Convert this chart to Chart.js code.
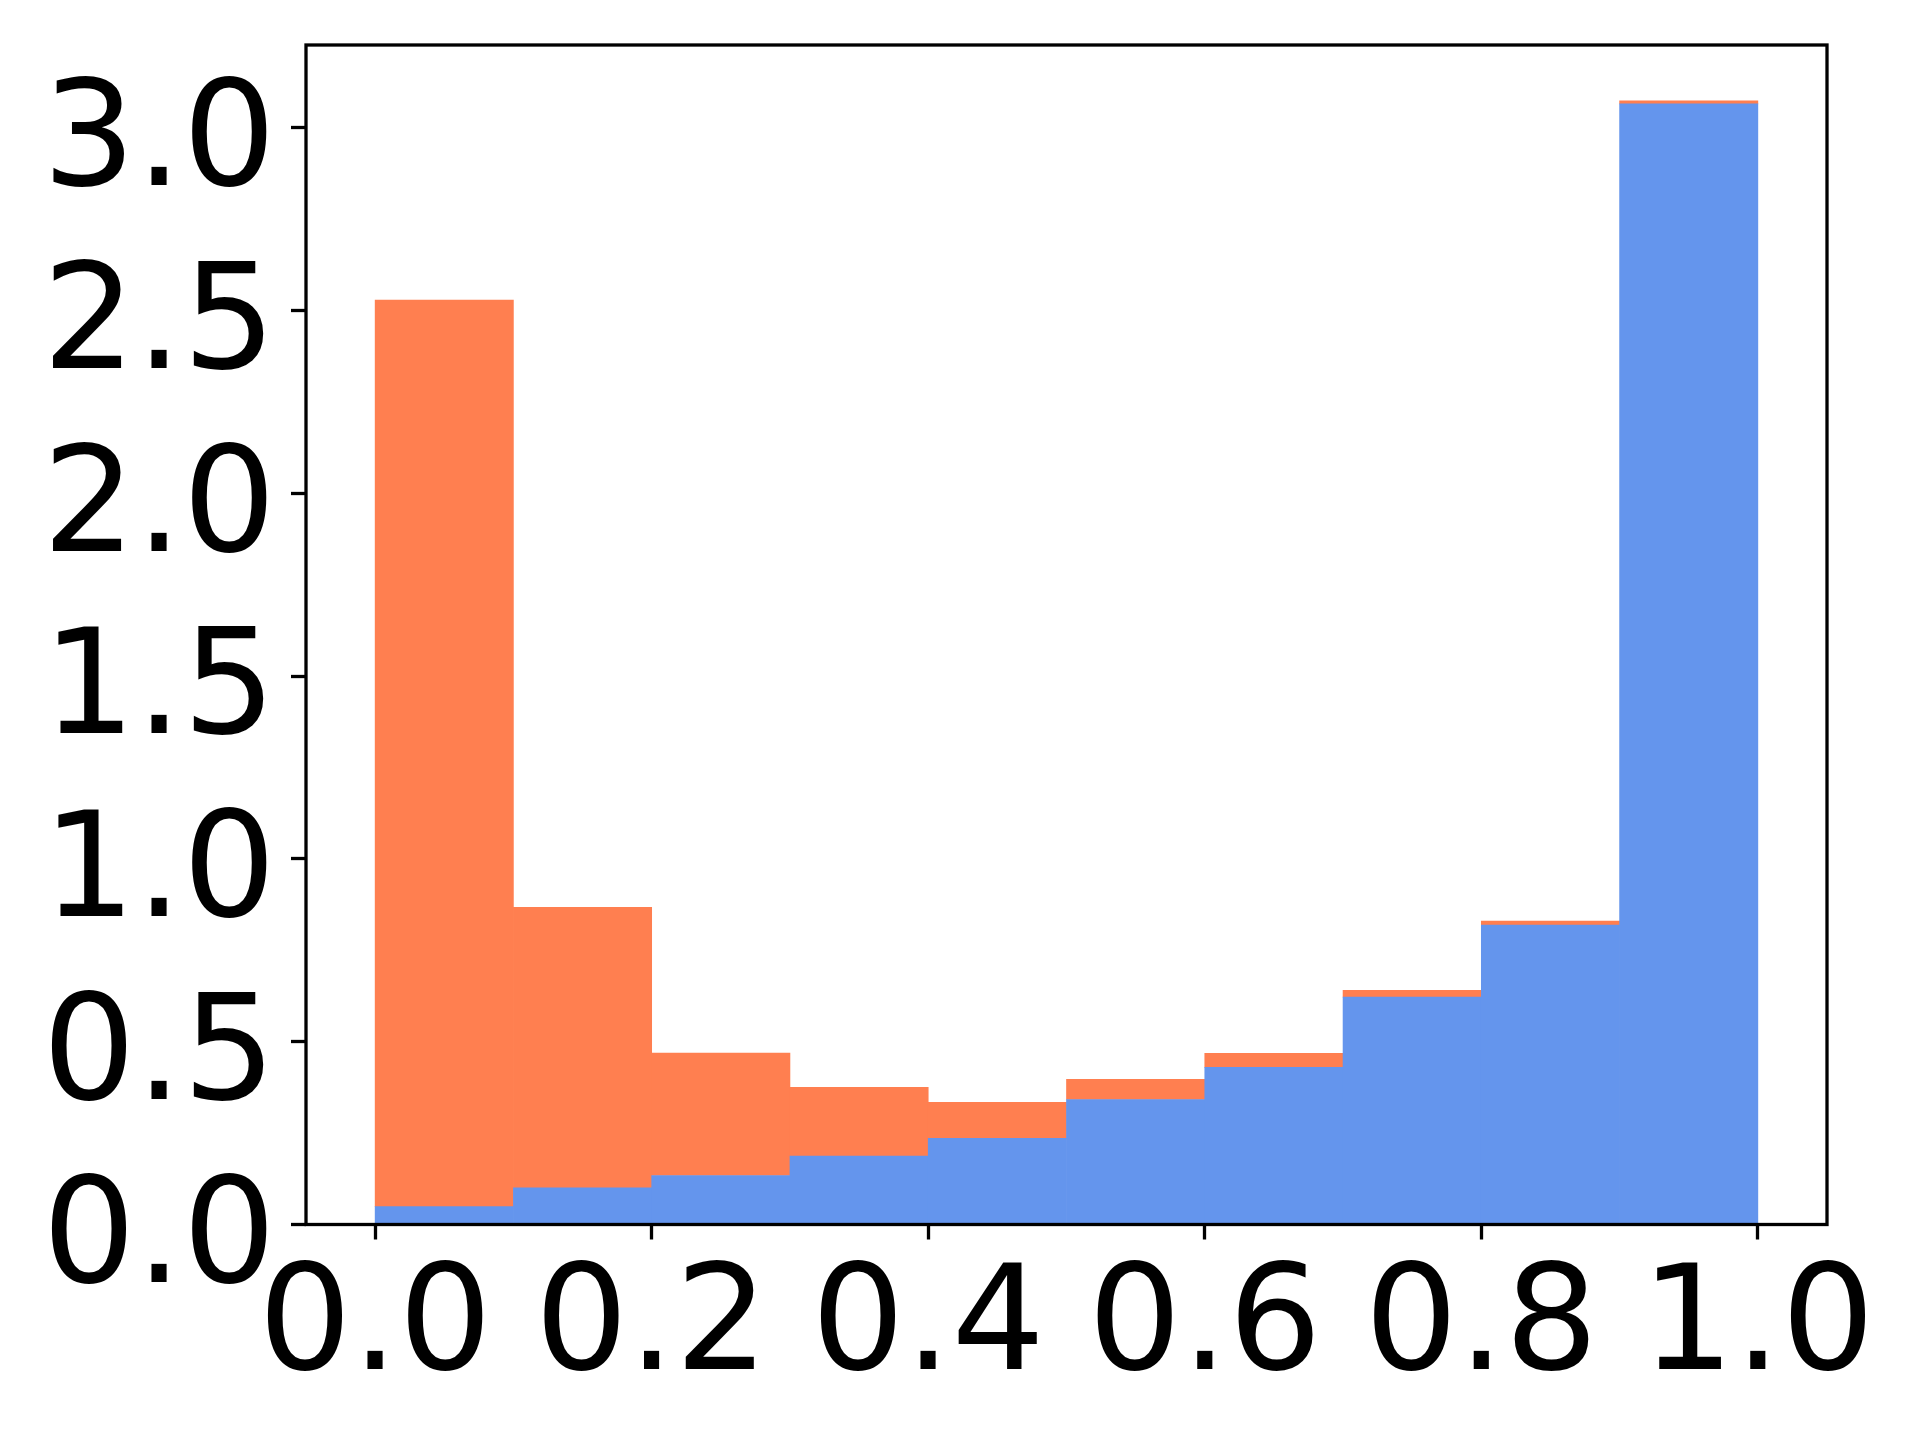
<!DOCTYPE html>
<html>
<head>
<meta charset="utf-8">
<script src="https://cdn.jsdelivr.net/npm/chart.js@4/dist/chart.umd.min.js"></script>
<style>
  html, body { margin: 0; padding: 0; background: #fff; }
  canvas { display: block; }
</style>
</head>
<body>
<canvas id="histChart" width="1920" height="1440"></canvas>
<script>
// bin centres (bins of width 0.1 from 0 to 1)
const binCenters = [0.05, 0.15, 0.25, 0.35, 0.45, 0.55, 0.65, 0.75, 0.85, 0.95];
// lower (blue) part of the stacked histogram
const blueValues = [0.049, 0.100, 0.134, 0.187, 0.236, 0.342, 0.430, 0.622, 0.819, 3.066];
// upper (orange) part stacked on top of the blue one
const orangeValues = [2.480, 0.768, 0.335, 0.188, 0.098, 0.055, 0.038, 0.019, 0.011, 0.008];
// tick labels
const xTicks = [0.0, 0.2, 0.4, 0.6, 0.8, 1.0];
const yTicks = [0.0, 0.5, 1.0, 1.5, 2.0, 2.5, 3.0];

const tickFont = { family: 'DejaVu Sans', size: 147, lineHeight: 1.0 };

// keep only the ticks we want (chart.js adds min/max as ticks)
function keepTicks(list) {
  return (scale) => {
    scale.ticks = list.map(v => ({ value: v }));
  };
}

// box around the plot, like matplotlib spines
const frame = {
  id: 'frame',
  afterDraw(chart) {
    const { ctx, chartArea: a } = chart;
    ctx.save();
    ctx.strokeStyle = '#000';
    ctx.lineWidth = 3.3;
    ctx.strokeRect(a.left, a.top, a.right - a.left, a.bottom - a.top);
    ctx.restore();
  }
};

const ctx = document.getElementById('histChart').getContext('2d');
new Chart(ctx, {
  type: 'bar',
  data: {
    datasets: [{
      label: 'blue',
      data: binCenters.map((x, i) => ({ x: x, y: blueValues[i] })),
      backgroundColor: '#6495ED',
      borderWidth: 0,
      barPercentage: 1,
      categoryPercentage: 1
    }, {
      label: 'orange',
      data: binCenters.map((x, i) => ({ x: x, y: orangeValues[i] })),
      backgroundColor: '#FF7F50',
      borderWidth: 0,
      barPercentage: 1,
      categoryPercentage: 1
    }]
  },
  options: {
    responsive: false,
    animation: false,
    devicePixelRatio: 1,
    layout: { padding: { top: 45, right: 93, left: 0, bottom: 0 } },
    plugins: { legend: { display: false }, tooltip: { enabled: false } },
    scales: {
      x: {
        type: 'linear',
        stacked: true,
        offset: false,
        min: -0.05,
        max: 1.05,
        afterBuildTicks: keepTicks(xTicks),
        afterFit: (scale) => {
          scale.height = 215.5;
          scale.paddingLeft = 0;
          scale.paddingRight = 0;
        },
        border: { display: false },
        grid: {
          display: true,
          drawOnChartArea: false,
          drawTicks: true,
          tickLength: 15,
          tickWidth: 3.3,
          tickColor: '#000',
          offset: false
        },
        ticks: {
          autoSkip: false,
          maxRotation: 0,
          padding: 18,
          color: '#000',
          font: tickFont,
          callback: (v) => Number(v).toFixed(1)
        }
      },
      y: {
        stacked: true,
        min: 0,
        max: 3.227,
        afterBuildTicks: keepTicks(yTicks),
        afterFit: (scale) => {
          scale.width = 306;
          scale.paddingTop = 0;
          scale.paddingBottom = 0;
        },
        border: { display: false },
        grid: {
          display: true,
          drawOnChartArea: false,
          drawTicks: true,
          tickLength: 15,
          tickWidth: 3.3,
          tickColor: '#000'
        },
        ticks: {
          padding: 15,
          labelOffset: 19,
          color: '#000',
          font: tickFont,
          callback: (v) => Number(v).toFixed(1)
        }
      }
    }
  },
  plugins: [frame]
});
</script>
</body>
</html>
